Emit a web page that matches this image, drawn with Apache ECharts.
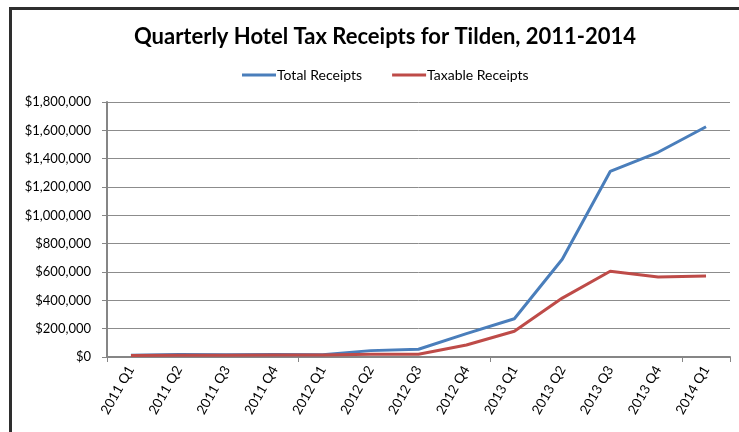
<!DOCTYPE html>
<html>
<head>
<meta charset="utf-8">
<style>
  html, body { margin: 0; padding: 0; background: #fff; }
  #chart { width: 739px; height: 432px; }
</style>
<script src="https://cdn.jsdelivr.net/npm/echarts@6/dist/echarts.min.js"></script>
</head>
<body>
<div id="chart"></div>
<script>
// Quarter labels along the x axis
const quarters = [
  '2011 Q1', '2011 Q2', '2011 Q3', '2011 Q4',
  '2012 Q1', '2012 Q2', '2012 Q3', '2012 Q4',
  '2013 Q1', '2013 Q2', '2013 Q3', '2013 Q4',
  '2014 Q1'
];

// Receipts per quarter, in dollars
const totalReceipts = [
  12000, 18000, 16000, 17000,
  16000, 45000, 55000, 165000,
  270000, 690000, 1310000, 1445000,
  1625000
];
const taxableReceipts = [
  10000, 12000, 12000, 14000,
  14000, 20000, 20000, 85000,
  182000, 416000, 605000, 565000,
  572000
];

const FONT = 'Lato, "Open Sans", sans-serif';

function dollars(v) {
  return '$' + v.toLocaleString('en-US');
}

const chart = echarts.init(document.getElementById('chart'), null, { renderer: 'canvas' });

chart.setOption({
  backgroundColor: '#ffffff',
  animation: false,
  textStyle: { fontFamily: FONT },
  title: {
    text: 'Quarterly Hotel Tax Receipts for Tilden, 2011-2014',
    left: 380,
    textAlign: 'center',
    top: 21,
    textStyle: { fontFamily: FONT, fontSize: 22, fontWeight: 'bold', color: '#000' }
  },
  legend: {
    top: 63,
    left: 237,
    itemGap: 30,
    itemWidth: 34,
    itemHeight: 3,
    icon: 'rect',
    textStyle: { fontFamily: FONT, fontSize: 14, color: '#000', padding: [0, 0, 0, -4] },
    data: ['Total Receipts', 'Taxable Receipts']
  },
  grid: { left: 107, right: 9, top: 102, bottom: 75, containLabel: false },
  xAxis: {
    type: 'category',
    data: quarters,
    boundaryGap: true,
    axisLine: { lineStyle: { color: '#868686', width: 2 } },
    axisTick: { show: true, interval: 3, alignWithLabel: false, length: 5, lineStyle: { color: '#868686' } },
    axisLabel: {
      rotate: 60,
      interval: 0,
      margin: 10,
      fontFamily: FONT,
      fontSize: 13.5,
      color: '#000'
    }
  },
  yAxis: {
    type: 'value',
    min: 0,
    max: 1800000,
    interval: 200000,
    axisLine: { show: true, lineStyle: { color: '#868686', width: 2 } },
    axisTick: { show: true, inside: false, length: 5, lineStyle: { color: '#868686' } },
    splitLine: { show: true, lineStyle: { color: '#8c8c8c', width: 1 } },
    axisLabel: {
      formatter: dollars,
      margin: 16,
      fontFamily: FONT,
      fontSize: 13,
      color: '#000'
    }
  },
  series: [
    {
      name: 'Total Receipts',
      type: 'line',
      data: totalReceipts,
      showSymbol: false,
      symbol: 'none',
      color: '#4A7EBB',
      lineStyle: { color: '#4A7EBB', width: 3 }
    },
    {
      name: 'Taxable Receipts',
      type: 'line',
      data: taxableReceipts,
      showSymbol: false,
      symbol: 'none',
      color: '#BE4B48',
      lineStyle: { color: '#BE4B48', width: 3 }
    }
  ],
  graphic: [
    // chart frame: top and left edges
    { type: 'rect', shape: { x: 9, y: 7, width: 730, height: 3 }, style: { fill: '#2e2e2e' }, silent: true },
    { type: 'rect', shape: { x: 9, y: 7, width: 3, height: 425 }, style: { fill: '#2e2e2e' }, silent: true }
  ]
});
</script>
</body>
</html>
